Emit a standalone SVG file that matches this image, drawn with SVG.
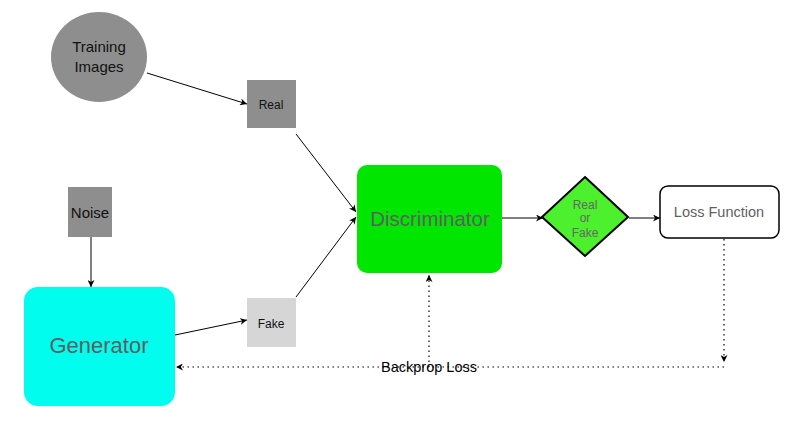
<svg xmlns="http://www.w3.org/2000/svg" width="793" height="429" viewBox="0 0 793 429">
<defs>
<marker id="ah" viewBox="0 0 10 10" refX="10" refY="5" markerWidth="7" markerHeight="7" orient="auto" markerUnits="userSpaceOnUse">
<path d="M0,0 L10,5 L0,10 L3,5 z" fill="#000"/>
</marker>
</defs>
<style>
text{font-family:"Liberation Sans",Arial,sans-serif;text-anchor:middle}
.ln{stroke:#000;stroke-width:1;fill:none}
.dt{stroke:#000;stroke-width:1.2;fill:none;stroke-dasharray:1.5 3.5}
.gray{fill:#8e8e8e}
</style>
<rect width="793" height="429" fill="#fff"/>
<g id="connectors">
<line class="ln" x1="147" y1="73" x2="247" y2="104" marker-end="url(#ah)"/>
<line class="ln" x1="296" y1="134" x2="356" y2="212" marker-end="url(#ah)"/>
<line class="ln" x1="296" y1="297" x2="356" y2="217" marker-end="url(#ah)"/>
<line class="ln" x1="91" y1="237" x2="91" y2="287" marker-end="url(#ah)"/>
<line class="ln" x1="175" y1="335" x2="247" y2="320" marker-end="url(#ah)"/>
<line class="ln" x1="502" y1="218" x2="543" y2="218" marker-end="url(#ah)"/>
<line class="ln" x1="629" y1="218" x2="660" y2="218" marker-end="url(#ah)"/>
<line class="dt" x1="724" y1="239" x2="724" y2="362" marker-end="url(#ah)"/>
<line class="dt" x1="724" y1="367" x2="176" y2="367" marker-end="url(#ah)"/>
<line class="dt" x1="429" y1="367" x2="429" y2="275" marker-end="url(#ah)"/>
<text x="429" y="372" font-size="14.5" fill="#000">Backprop Loss</text>
</g>
<g id="training">
<ellipse cx="99" cy="57" rx="48" ry="45" class="gray"/>
<text x="99" y="52" font-size="15" fill="#111">Training</text>
<text x="99" y="72" font-size="15" fill="#111">Images</text>
</g>
<g id="real">
<rect x="247" y="80" width="49" height="48" class="gray"/>
<text x="271" y="109" font-size="12" fill="#111">Real</text>
</g>
<g id="noise">
<rect x="68" y="187" width="44" height="50" class="gray"/>
<text x="90" y="218" font-size="15" fill="#111">Noise</text>
</g>
<g id="fake">
<rect x="247" y="298" width="49" height="49" fill="#d6d6d6"/>
<text x="271" y="328" font-size="12" fill="#111">Fake</text>
</g>
<g id="generator">
<rect x="24" y="287" width="151" height="119" rx="14" fill="#00fdee"/>
<text x="99" y="353" font-size="22" fill="#5f5f5f">Generator</text>
</g>
<g id="discriminator">
<rect x="357" y="165" width="145" height="108" rx="10" fill="#00e600"/>
<text x="430" y="226" font-size="20.5" fill="#5f5f5f">Discriminator</text>
</g>
<g id="decision">
<polygon points="585,177 628,217 585,256 542,217" fill="#4cf02c" stroke="#000" stroke-width="2"/>
<text x="585" y="209" font-size="12" fill="#666">Real</text>
<text x="585" y="222" font-size="12" fill="#666">or</text>
<text x="585" y="237" font-size="12" fill="#666">Fake</text>
</g>
<g id="loss">
<rect x="660" y="186" width="119" height="52" rx="8" fill="#fff" stroke="#000" stroke-width="1.5"/>
<text x="719" y="217" font-size="14.5" fill="#5f5f5f">Loss Function</text>
</g>
</svg>
